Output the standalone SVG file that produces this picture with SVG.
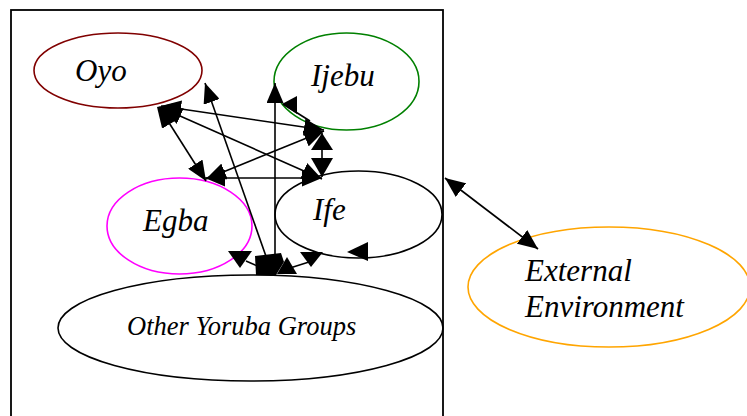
<svg xmlns="http://www.w3.org/2000/svg" width="747" height="416" viewBox="0 0 747 416">
  <style>
    .node { fill: none; stroke-width: 1.6; }
    .lbl { font-family: "Liberation Serif", "Times New Roman", serif; font-style: italic; font-size: 31px; fill: #000; }
    .small { font-size: 26.5px; }
    .edge { stroke: #000; stroke-width: 1.6; fill: none; }
    .head { fill: #000; stroke: none; }
  </style>
  <defs>
    <marker id="ah" markerUnits="userSpaceOnUse" markerWidth="20" markerHeight="17" refX="20" refY="8.5" orient="auto-start-reverse">
      <path d="M0,0 L20,8.5 L0,17 z" fill="#000"/>
    </marker>
  </defs>

  <rect x="11" y="10" width="432" height="420" fill="#fff" stroke="#000" stroke-width="1.8"/>

  <g id="oyo">
    <ellipse class="node" cx="118" cy="70.5" rx="84" ry="37.5" stroke="#800000"/>
    <text class="lbl" x="75" y="81">Oyo</text>
  </g>
  <g id="ijebu">
    <ellipse class="node" cx="346.5" cy="81.5" rx="72.5" ry="48.5" stroke="#008000"/>
    <text class="lbl" x="311" y="86">Ijebu</text>
  </g>
  <g id="egba">
    <ellipse class="node" cx="179.5" cy="226" rx="72.5" ry="48" stroke="#ff00ff"/>
    <text class="lbl" x="143" y="231">Egba</text>
  </g>
  <g id="ife">
    <ellipse class="node" cx="358.5" cy="214.5" rx="83.5" ry="43.5" stroke="#000"/>
    <text class="lbl" x="313" y="220">Ife</text>
  </g>
  <g id="other">
    <ellipse class="node" cx="250.5" cy="328" rx="192.5" ry="53" stroke="#000"/>
    <text class="lbl small" x="127" y="335">Other Yoruba Groups</text>
  </g>
  <g id="external">
    <ellipse class="node" cx="609" cy="287" rx="141" ry="60" stroke="#ffa500"/>
    <text class="lbl" x="525" y="281">External</text>
    <text class="lbl" x="525" y="317">Environment</text>
  </g>

  <g id="connectors">
    <!-- Oyo links -->
    <line class="edge" x1="161" y1="106" x2="324" y2="130" marker-start="url(#ah)" marker-end="url(#ah)"/>
    <line class="edge" x1="162" y1="108" x2="322" y2="179" marker-start="url(#ah)" marker-end="url(#ah)"/>
    <line class="edge" x1="159" y1="107" x2="206" y2="181" marker-start="url(#ah)" marker-end="url(#ah)"/>
    <polygon class="head" points="157,107 175,103 177,120 162,128"/>
    <!-- Egba links -->
    <line class="edge" x1="206" y1="179" x2="324" y2="131" marker-start="url(#ah)" marker-end="url(#ah)"/>
    <line class="edge" x1="205" y1="178" x2="322" y2="178" marker-start="url(#ah)" marker-end="url(#ah)"/>
    <!-- Ijebu - Ife -->
    <line class="edge" x1="322" y1="133" x2="322" y2="177"/>
    <polygon class="head" points="322,133 311,150 333,150"/>
    <polygon class="head" points="311,158 333,158 322,177"/>
    <!-- Other Yoruba Groups upward links -->
    <line class="edge" x1="268" y1="262" x2="205" y2="83" marker-end="url(#ah)"/>
    <line class="edge" x1="275" y1="262" x2="275" y2="83" marker-end="url(#ah)"/>
    <!-- Ijebu lower-left head -->
    <line class="edge" x1="283" y1="104" x2="310" y2="121"/>
    <polygon class="head" points="282,104 297,96 297,114"/>
    <!-- bottom cluster on Other Yoruba Groups -->
    <line class="edge" x1="246" y1="261" x2="262" y2="268"/>
    <polygon class="head" points="228,251 252,251 240,268"/>
    <line class="edge" x1="309" y1="262" x2="290" y2="268"/>
    <polygon class="head" points="300,252 323,252 311,267"/>
    <polygon class="head" points="255,256 281,253 284,262 276,275 256,275"/>
    <polygon class="head" points="277,274 287,257 297,274"/>
    <!-- Ife lower head -->
    <polygon class="head" points="347,252 368,242 368,261"/>
    <!-- box to External Environment -->
    <line class="edge" x1="445" y1="178" x2="538" y2="249" marker-start="url(#ah)" marker-end="url(#ah)"/>
  </g>
</svg>
